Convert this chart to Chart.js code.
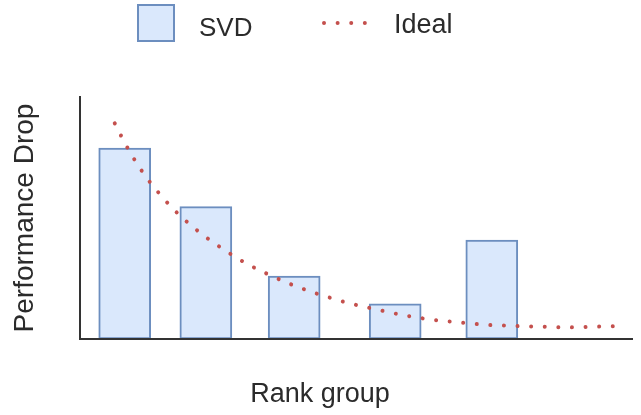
<!DOCTYPE html>
<html>
<head>
<meta charset="utf-8">
<title>Performance Drop by Rank group</title>
<script src="https://cdn.jsdelivr.net/npm/chart.js@4/dist/chart.umd.min.js"></script>
<style>
  html, body { margin: 0; padding: 0; background: #fff; }
</style>
</head>
<body>
<canvas id="chart" width="641" height="415"></canvas>
<script>
// bar positions along the rank axis (0-100) and their heights
const rankPos = [8.1, 22.8, 38.8, 57.1, 74.6];
const svdDrop = [78.9, 54.7, 26.0, 14.5, 40.9];

// the "Ideal" curve
const idealX = [6.3, 8.6, 11.3, 14.4, 17.8, 21.6, 25.7, 29.9, 34.4, 39.1, 43.8,
  48.6, 53.5, 58.5, 63.4, 68.4, 73.4, 78.4, 83.5, 88.4, 93.5, 98.6];
const idealY = [89.1, 79.0, 69.1, 60.0, 51.7, 44.2, 37.5, 31.5, 26.4, 21.8, 18.1,
  14.9, 12.3, 9.9, 8.1, 6.9, 5.9, 5.4, 5.1, 4.8, 5.1, 5.4];

const seriesNames = ["SVD", "Ideal"];
const xTitle = "Rank group";
const yTitle = "Performance Drop";

const FONT = "'Liberation Sans', Arial, sans-serif";
const TEXT = "#2b2b2b";
const dotDash = [0.01, 13.6];

// draws the legend row above the plot (box for the bars, dots for the line)
const topLegend = {
  id: "topLegend",
  afterDraw(chart) {
    const ctx = chart.ctx;
    const bar = chart.data.datasets[0];
    const line = chart.data.datasets[1];
    ctx.save();

    ctx.fillStyle = bar.backgroundColor;
    ctx.strokeStyle = bar.borderColor;
    ctx.lineWidth = 2;
    ctx.fillRect(138, 5, 36, 36);
    ctx.strokeRect(138, 5, 36, 36);

    ctx.strokeStyle = line.borderColor;
    ctx.lineWidth = line.borderWidth;
    ctx.lineCap = "round";
    ctx.setLineDash(dotDash);
    ctx.beginPath();
    ctx.moveTo(324, 23);
    ctx.lineTo(368, 23);
    ctx.stroke();
    ctx.setLineDash([]);

    ctx.fillStyle = TEXT;
    ctx.font = "26px " + FONT;
    ctx.textBaseline = "alphabetic";
    ctx.fillText(bar.label, 199, 36);
    ctx.font = "27px " + FONT;
    ctx.fillText(line.label, 394, 33);
    ctx.restore();
  }
};

new Chart(document.getElementById("chart"), {
  type: "bar",
  data: {
    datasets: [
      {
        label: seriesNames[0],
        data: rankPos.map((x, i) => ({ x: x, y: svdDrop[i] })),
        backgroundColor: "#dae8fc",
        borderColor: "#6c8ebf",
        borderWidth: 2,
        borderSkipped: false,
        barThickness: 52,
        order: 2
      },
      {
        type: "line",
        label: seriesNames[1],
        data: idealX.map((x, i) => ({ x: x, y: idealY[i] })),
        borderColor: "#c4504d",
        borderWidth: 4,
        borderDash: dotDash,
        borderCapStyle: "round",
        cubicInterpolationMode: "monotone",
        pointRadius: 0,
        fill: false,
        order: 1
      }
    ]
  },
  options: {
    responsive: false,
    animation: false,
    events: [],
    layout: { padding: { top: 97, right: 9, bottom: 0, left: 8 } },
    scales: {
      x: {
        type: "linear",
        min: 0,
        max: 100,
        offset: false,
        ticks: { display: false },
        grid: { display: false, drawTicks: false },
        border: { display: true, color: "#333", width: 2, z: 1 }
      },
      y: {
        min: 0,
        max: 100,
        ticks: { display: false },
        grid: { display: false, drawTicks: false },
        border: { display: true, color: "#333", width: 2, z: 1 },
        title: {
          display: true,
          text: yTitle,
          color: TEXT,
          font: { family: FONT, size: 28, lineHeight: 1 },
          padding: { top: 3.5, bottom: 40.5 }
        }
      }
    },
    plugins: {
      legend: { display: false },
      tooltip: { enabled: false },
      title: {
        display: true,
        position: "bottom",
        text: xTitle,
        color: TEXT,
        font: { family: FONT, size: 27, weight: "normal", lineHeight: 1.2 },
        padding: { top: 39.6, bottom: 4 }
      }
    }
  },
  plugins: [topLegend]
});
</script>
</body>
</html>
